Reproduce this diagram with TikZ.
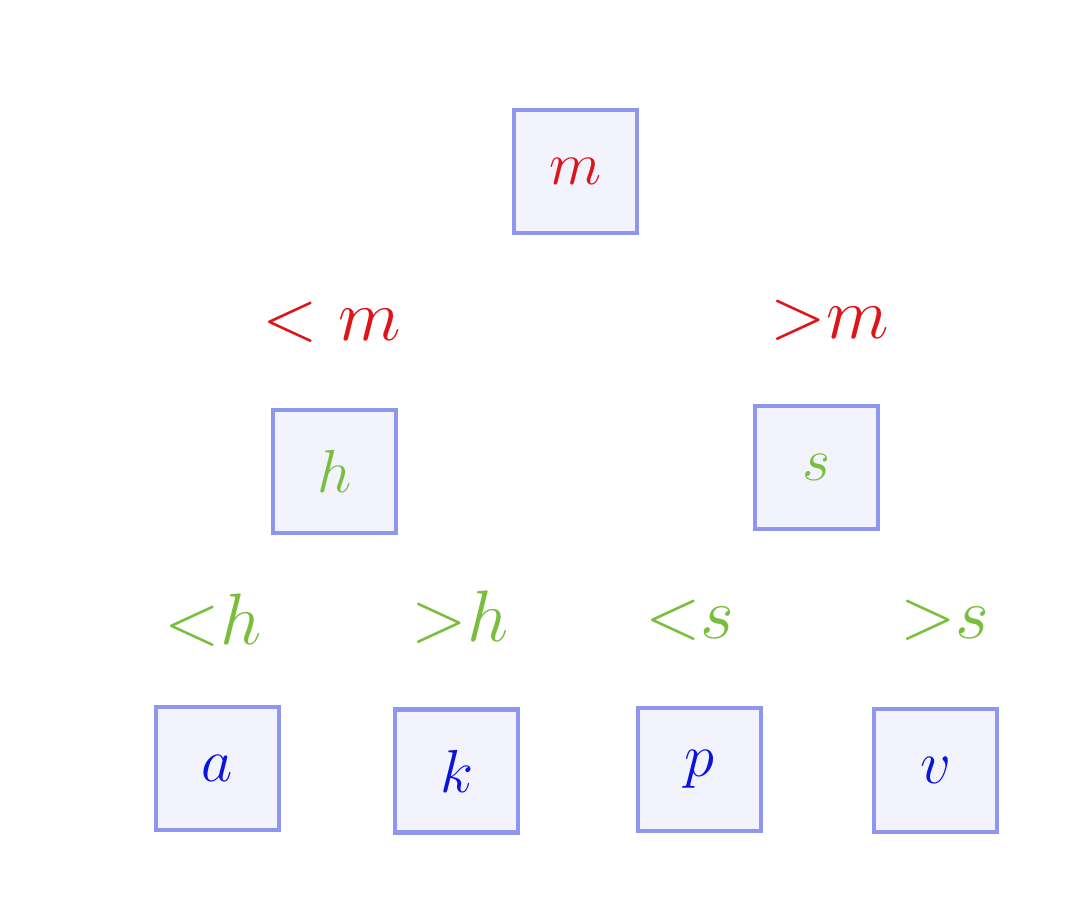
\documentclass[tikz,border=0pt]{standalone}
\usetikzlibrary{positioning}

\definecolor{boxline}{RGB}{142,150,240}
\definecolor{boxfill}{RGB}{243,243,253}
\definecolor{redink}{RGB}{222,20,24}
\definecolor{greenink}{RGB}{122,190,62}
\definecolor{blueink}{RGB}{10,20,220}

\begin{document}
\begin{tikzpicture} [x = 0.01cm, y = -0.01cm,
    every node/.style = {font = \fontsize{19}{23}\selectfont},
    key/.style = {draw = boxline, fill = boxfill, line width = 1.2pt,
        minimum size = 1.23cm, inner sep = 0pt},
    cmp/.style = {inner sep = 0pt, font = \fontsize{22}{26}\selectfont}]
\useasboundingbox (0,0) rectangle (1090,900);
\node[key, text = redink] (m) at (575.5,171.5) {$m$};
\node[key, text = greenink] (h) at (334.5,471.5) {$h$};
\node[key, text = greenink] (s) at (816.5,467.5) {$s$};
\node[key, text = blueink] (a) at (217.5,768.5) {$a$};
\node[key, text = blueink] (k) at (456.5,771) {$k$};
\node[key, text = blueink] (p) at (699.5,769.5) {$p$};
\node[key, text = blueink] (v) at (935.5,770.5) {$v$};

\node[cmp, text = redink] (ltm) at (332,322) {${<}\;m$};
\node[cmp, text = redink] (gtm) at (830,320) {${>}m$};
\node[cmp, text = greenink] (lth) at (213,620) {${<}h$};
\node[cmp, text = greenink] (gth) at (460,617) {${>}h$};
\node[cmp, text = greenink] (lts) at (690,620) {${<}s$};
\node[cmp, text = greenink] (gts) at (945,620) {${>}s$};
\end{tikzpicture}
\end{document}
